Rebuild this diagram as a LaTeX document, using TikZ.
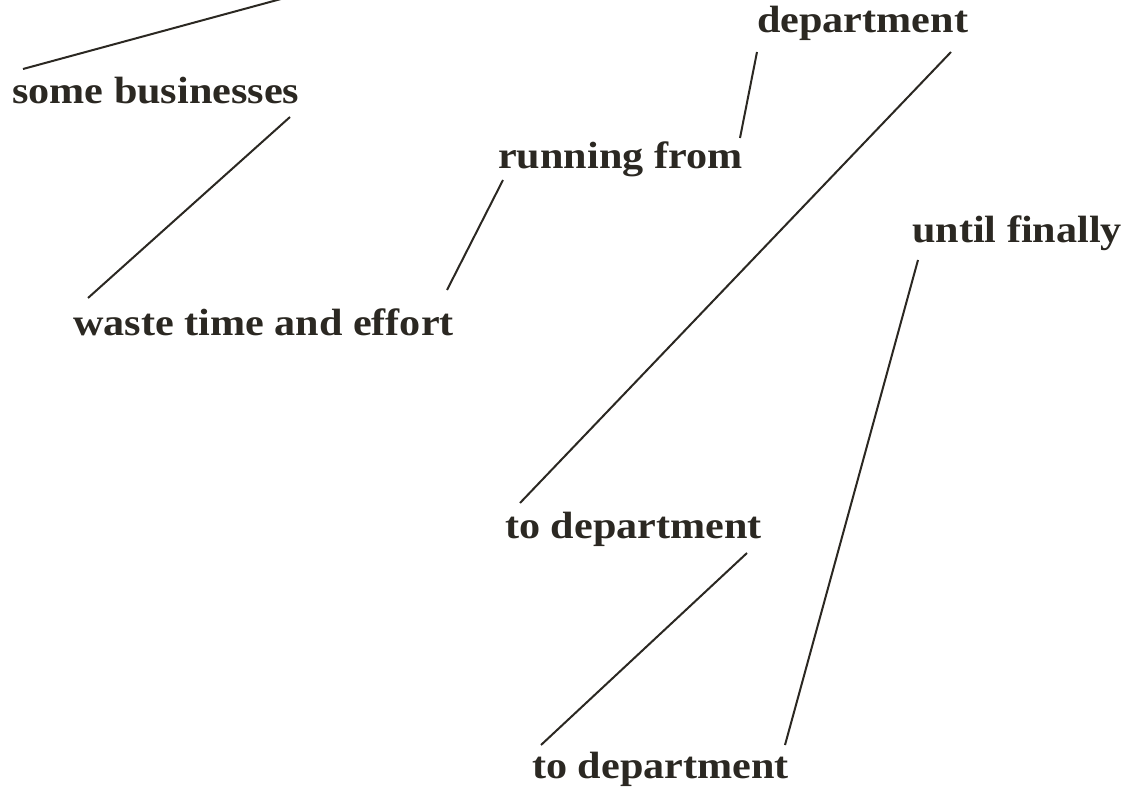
\documentclass[tikz,border=0pt]{standalone}
\usepackage{fontspec}
\setmainfont{Liberation Serif}[FakeStretch=1.11]
\definecolor{ink}{HTML}{2B2822}
\begin{document}
\begin{tikzpicture}[x=1pt,y=-1pt,
  lbl/.style={anchor=base west,inner sep=0pt,text=ink,font=\fontsize{38}{42}\selectfont\bfseries},
  conn/.style={draw=ink,line width=2pt}]
\useasboundingbox (0,0) rectangle (1136,789);
\node[lbl] (A) at (12,104) {some businesses};
\node[lbl] (B) at (73,335) {waste time and effort};
\node[lbl] (C) at (498,169) {running from};
\node[lbl] (D) at (757,33) {department};
\node[lbl] (E) at (912,242) {until finally};
\node[lbl] (F) at (505,538) {to department};
\node[lbl] (G) at (532,778) {to department};
\coordinate (top) at (281,-1);
\draw[conn] (top) -- ([shift={(11,-35)}]A.base west);
\draw[conn] ([shift={(278,13)}]A.base west) -- ([shift={(15,-37)}]B.base west);
\draw[conn] ([shift={(374,-45)}]B.base west) -- ([shift={(5,11)}]C.base west);
\draw[conn] ([shift={(242,-31)}]C.base west) -- ([shift={(0,19)}]D.base west);
\draw[conn] ([shift={(194,19)}]D.base west) -- ([shift={(15,-35)}]F.base west);
\draw[conn] ([shift={(6,18)}]E.base west) -- ([shift={(253,-33)}]G.base west);
\draw[conn] ([shift={(242,15)}]F.base west) -- ([shift={(9,-33)}]G.base west);
\end{tikzpicture}
\end{document}
